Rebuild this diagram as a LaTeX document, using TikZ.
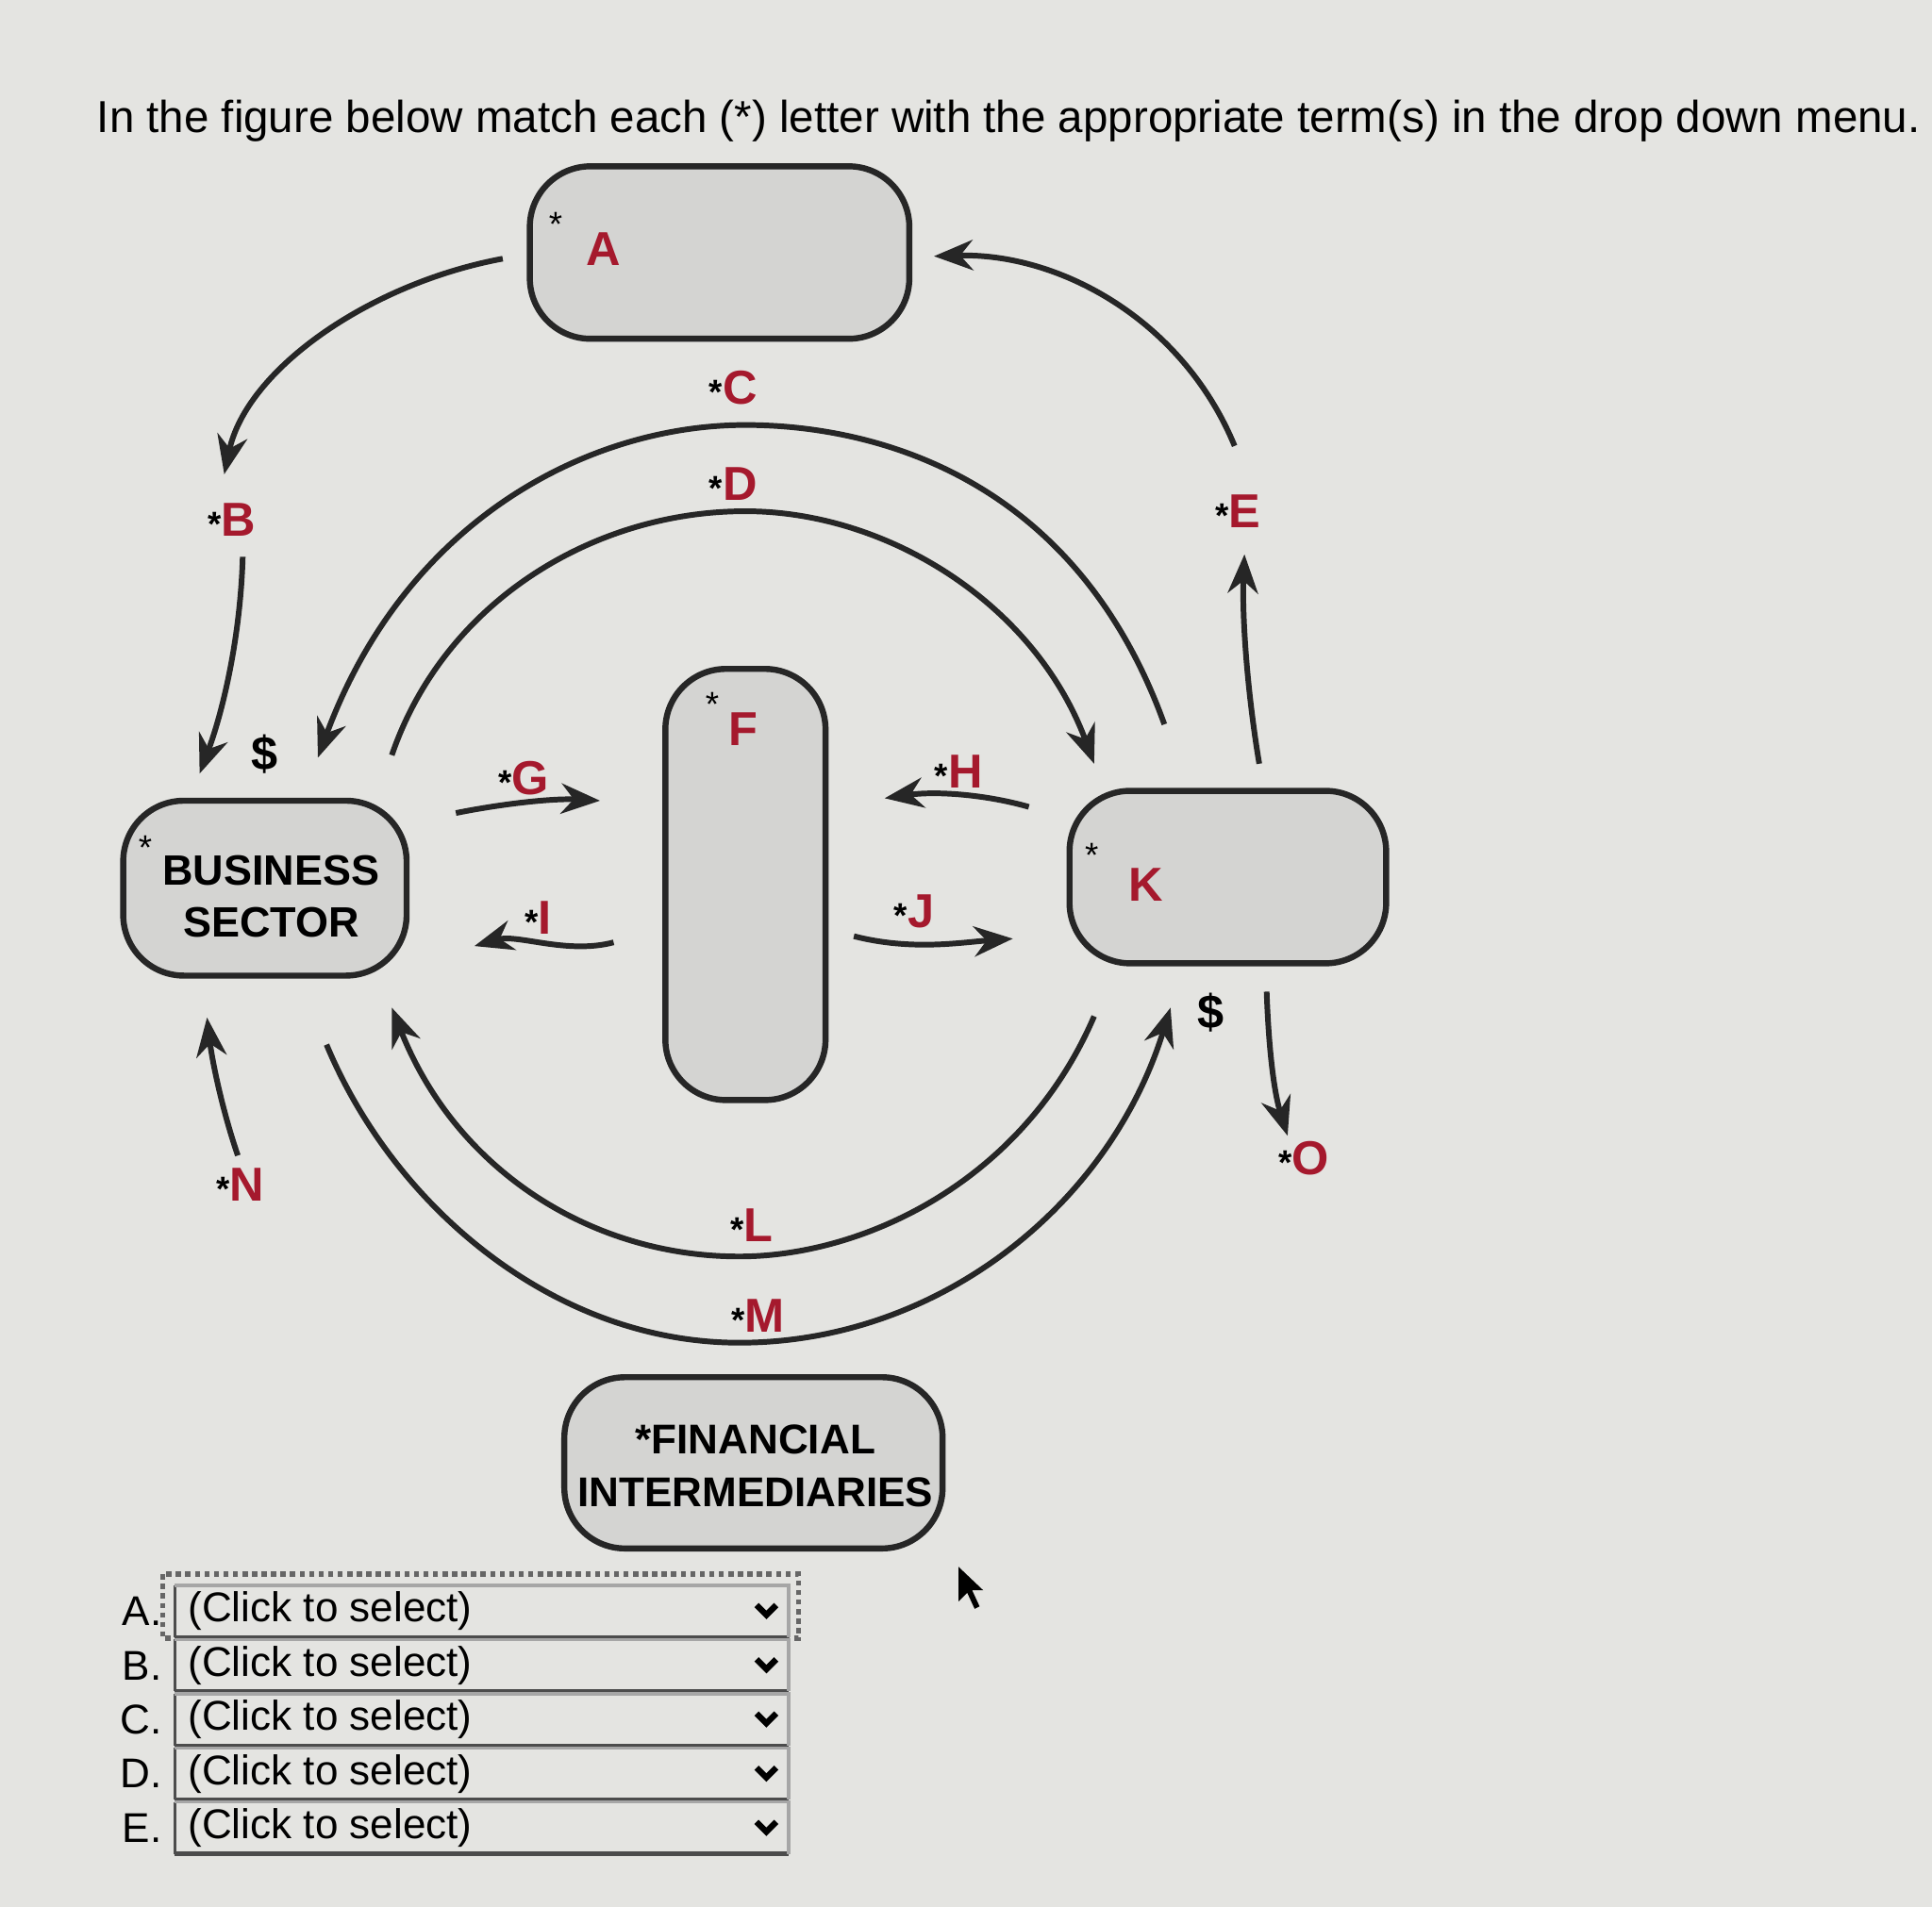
\documentclass[tikz,border=0pt]{standalone}
\usepackage{fontspec}
\setmainfont{Liberation Sans}
\usetikzlibrary{arrows.meta}
\definecolor{bg}{RGB}{228,228,225}
\definecolor{boxg}{RGB}{212,212,210}
\definecolor{lred}{RGB}{165,25,45}
\newcommand{\lab}[1]{{\footnotesize\textcolor{black}{*}}\textcolor{lred}{#1}}
\begin{document}
\begin{tikzpicture}[x=0.1mm,y=-0.1mm,
  blk/.style={draw=black!85,line width=1.4pt,rounded corners=14pt,fill=boxg},
  arr/.style={draw=black!85,line width=1.3pt,-{Stealth[length=9pt,width=7pt]}},
  lb/.style={font=\fontsize{11}{12}\selectfont\bfseries,inner sep=0pt},
  st/.style={font=\footnotesize,inner sep=0pt}]
\useasboundingbox (0,0) rectangle (1568,1548);
\fill[bg] (0,0) rectangle (1568,1548);
\node[anchor=west,font=\fontsize{10.35}{12}\selectfont,inner sep=0pt] (title) at (78,98) {In the figure below match each (*) letter with the appropriate term(s) in the drop down menu.};
% boxes
\draw[blk] (430,135) rectangle (738,275);
\node[st] (ast) at (451,182) {*};
\node[lb,text=lred] (a) at (490,202) {A};
\draw[blk] (100,650) rectangle (330,792);
\node[font=\fontsize{9.8}{12}\selectfont\bfseries,align=center] (bs) at (220,728) {BUSINESS\\SECTOR};
\node[st] (bsst) at (118,688) {*};
\draw[blk] (540,543) rectangle (670,893);
\node[st] (fst) at (578,572) {*};
\node[lb,text=lred] (f) at (603,592) {F};
\draw[blk] (868,642) rectangle (1125,782);
\node[st] (kst) at (886,694) {*};
\node[lb,text=lred] (k) at (930,718) {K};
\draw[blk] (458,1118) rectangle (765,1257);
\node[font=\fontsize{9.6}{12}\selectfont\bfseries,align=center] (fi) at (613,1190) {*FINANCIAL\\INTERMEDIARIES};
% coordinates
\coordinate (a1) at (408,210); \coordinate (a2) at (182,385);
\coordinate (b1) at (197,452); \coordinate (b2) at (162,628);
\coordinate (c1) at (945,588); \coordinate (c2) at (258,615);
\coordinate (d1) at (318,613); \coordinate (d2) at (888,620);
\coordinate (e1) at (1022,620); \coordinate (e2) at (1010,450);
\coordinate (k1) at (1002,362); \coordinate (k2) at (758,208);
\coordinate (g1) at (370,660); \coordinate (g2) at (487,650);
\coordinate (h1) at (835,655); \coordinate (h2) at (718,648);
\coordinate (i1) at (498,765); \coordinate (i2) at (385,768);
\coordinate (j1) at (693,760); \coordinate (j2) at (822,762);
\coordinate (l1) at (888,825); \coordinate (l2) at (318,818);
\coordinate (m1) at (265,848); \coordinate (m2) at (950,818);
\coordinate (n1) at (193,938); \coordinate (n2) at (168,826);
\coordinate (o1) at (1028,805); \coordinate (o2) at (1045,922);
% arrows
\draw[arr] (a1) .. controls (300,230) and (200,300) .. (a2);
\draw[arr] (b1) .. controls (195,520) and (180,580) .. (b2);
\draw[arr] (c1) .. controls (870,380) and (700,345) .. (605,345) .. controls (480,345) and (330,420) .. (c2);
\draw[arr] (d1) .. controls (360,490) and (480,415) .. (605,415) .. controls (720,415) and (840,490) .. (d2);
\draw[arr] (e1) .. controls (1012,560) and (1008,500) .. (e2);
\draw[arr] (k1) .. controls (960,260) and (860,205) .. (k2);
\draw[arr] (g1) .. controls (410,652) and (450,648) .. (g2);
\draw[arr] (h1) .. controls (800,645) and (760,642) .. (h2);
\draw[arr] (i1) .. controls (460,775) and (420,758) .. (i2);
\draw[arr] (j1) .. controls (740,772) and (780,765) .. (j2);
\draw[arr] (l1) .. controls (830,960) and (700,1020) .. (600,1020) .. controls (480,1020) and (370,950) .. (l2);
\draw[arr] (m1) .. controls (320,980) and (450,1090) .. (600,1090) .. controls (760,1090) and (900,980) .. (m2);
\draw[arr] (n1) .. controls (180,900) and (172,860) .. (n2);
\draw[arr] (o1) .. controls (1030,860) and (1035,890) .. (o2);
% labels
\node[lb] (lc) at (595,315) {\lab{C}};
\node[lb] (ld) at (595,393) {\lab{D}};
\node[lb] (lb) at (188,422) {\lab{B}};
\node[lb] (le) at (1005,415) {\lab{E}};
\node[lb] (lg) at (425,632) {\lab{G}};
\node[lb] (lh) at (778,626) {\lab{H}};
\node[lb] (li) at (437,745) {\lab{I}};
\node[lb] (lj) at (742,740) {\lab{J}};
\node[lb] (ll) at (610,995) {\lab{L}};
\node[lb] (lm) at (615,1068) {\lab{M}};
\node[lb] (ln) at (195,962) {\lab{N}};
\node[lb] (lo) at (1058,940) {\lab{O}};
\node[lb] (dol1) at (215,612) {\$};
\node[lb] (dol2) at (983,822) {\$};
% dropdowns
\draw[black!60,densely dotted,line width=1.2pt] (132,1278) rectangle (648,1330);
\foreach \L/\y [count=\i] in {A/1308,B/1352,C/1396,D/1440,E/1484}{
  \node[anchor=east,font=\fontsize{9.6}{12}\selectfont,inner sep=0pt] (dl\i) at (132,\y) {\L.};
  \draw[black!70,line width=0.7pt] (142,\y-21) -- (142,\y+21);
  \draw[black!70,line width=1pt] (142,\y+21) -- (640,\y+21);
  \draw[black!35,line width=0.7pt] (142,\y-21) -- (640,\y-21) -- (640,\y+21);
  \node[anchor=west,font=\fontsize{9.6}{12}\selectfont,inner sep=0pt] (dt\i) at (152,\y) {(Click to select)};
  \draw[line width=1.4pt] (614,\y-5) -- (622,\y+3) -- (630,\y-5);
}
% cursor
\fill[black] (778,1272) -- (778,1300) -- (785,1293) -- (791,1306) -- (795,1304) -- (789,1291) -- (798,1291) -- cycle;
\end{tikzpicture}
\end{document}
